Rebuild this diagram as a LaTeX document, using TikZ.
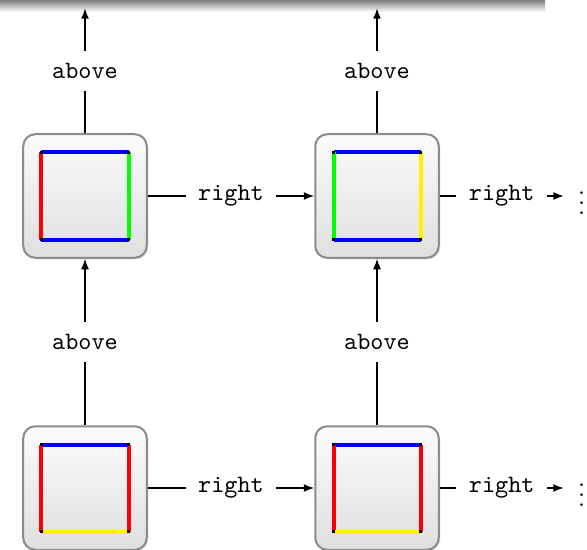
\documentclass[tikz,border=0pt]{standalone}
\usetikzlibrary{positioning}
\usetikzlibrary{shadows}
\usetikzlibrary{arrows.meta}

\tikzset{
  tile/.style={draw=black!45, line width=0.8pt, rounded corners=4.8pt, minimum size=49.4pt,
    top color=gray!3, bottom color=gray!25,
    drop shadow={opacity=0.25, shadow xshift=0.6pt, shadow yshift=-0.6pt}},
  side/.style={line width=1.6pt},
  lbl/.style={fill=white, inner sep=5pt, font=\ttfamily},
  link/.style={line width=0.6pt, -{Latex[length=4.2pt, width=3.2pt]}},
}
\newcommand\tilehalf{17.4pt}
% colours: #2 top, #3 left, #4 right, #5 bottom
\newcommand\tilesides[5]{%
  \draw[side,#2] ([shift={(-\tilehalf,\tilehalf)}]#1.center) -- ([shift={(\tilehalf,\tilehalf)}]#1.center);
  \draw[side,#3] ([shift={(-\tilehalf,-\tilehalf)}]#1.center) -- ([shift={(-\tilehalf,\tilehalf)}]#1.center);
  \draw[side,#4] ([shift={(\tilehalf,-\tilehalf)}]#1.center) -- ([shift={(\tilehalf,\tilehalf)}]#1.center);
  \draw[side,#5] ([shift={(-\tilehalf,-\tilehalf)}]#1.center) -- ([shift={(\tilehalf,-\tilehalf)}]#1.center);
  \foreach \dx/\dy in {-1/-1,-1/1,1/-1,1/1}
    \fill ([shift={(\dx*\tilehalf,\dy*\tilehalf)}]#1.center) +(-0.7pt,-0.7pt) rectangle +(0.7pt,0.7pt);
}

\begin{document}
\begin{tikzpicture}[x=0.4pt, y=0.4pt, node distance=66.6pt]
  \useasboundingbox (0,0) rectangle (587,549);

  % shadow of the box above
  \shade[top color=black!50, bottom color=white] (0,549) rectangle (545,537);

  % tiles
  \node[tile] (bl) at (85,61) {};
  \node[tile, right=of bl] (br) {};
  \node[tile, above=of bl] (tl) {};
  \node[tile, right=of tl] (tr) {};

  \tilesides{tl}{blue}{red}{green}{blue}
  \tilesides{tr}{blue}{green}{yellow}{blue}
  \tilesides{bl}{blue}{red}{red}{yellow}
  \tilesides{br}{blue}{red}{red}{yellow}

  % free ends
  \coordinate[above=50pt of tl.north] (tlup);
  \coordinate[above=50pt of tr.north] (trup);
  \coordinate[right=49.6pt of tr.east] (trend);
  \coordinate[right=49.6pt of br.east] (brend);

  % arrows
  \draw[link] (tl) -- node[lbl] {above} (tlup);
  \draw[link] (tr) -- node[lbl] {above} (trup);
  \draw[link] (bl) -- node[lbl] {above} (tl);
  \draw[link] (br) -- node[lbl] {above} (tr);
  \draw[link] (tl) -- node[lbl] {right} (tr);
  \draw[link] (bl) -- node[lbl] {right} (br);
  \draw[link] (tr) -- node[lbl] {right} (trend);
  \draw[link] (br) -- node[lbl] {right} (brend);

  \node[right=2.2pt of trend] (trdots) {$\vdots$};
  \node[right=2.2pt of brend] (brdots) {$\vdots$};
\end{tikzpicture}
\end{document}
